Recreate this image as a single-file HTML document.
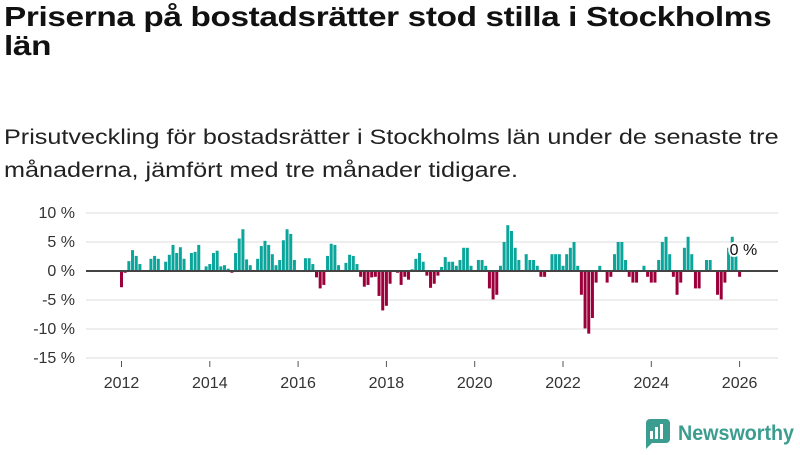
<!DOCTYPE html>
<html><head><meta charset="utf-8"><style>
body{margin:0;width:800px;height:450px;overflow:hidden;background:#fff;font-family:"Liberation Sans","DejaVu Sans",sans-serif;color:#111}
#title{position:absolute;left:4px;top:2px;font-size:28px;font-weight:bold;line-height:29px;margin:0;letter-spacing:-0.3px;transform:scaleX(1.19);transform-origin:left top;white-space:nowrap}
#sub{position:absolute;left:4px;top:121px;font-size:21px;line-height:33px;margin:0;color:#222;transform:scaleX(1.2);transform-origin:left top;white-space:nowrap}
svg{position:absolute;left:0;top:0}
</style></head><body>
<h1 id="title">Priserna på bostadsrätter stod stilla i Stockholms<br>län</h1>
<p id="sub">Prisutveckling för bostadsrätter i Stockholms län under de senaste tre<br>månaderna, jämfört med tre månader tidigare.</p>
<svg id="chart" width="800" height="450"></svg>
<script>
const startYear = 2012;
const values = [-2.8,-0.3,1.7,3.6,2.6,1.2,0,0,2.1,2.6,2.1,0,1.6,2.8,4.5,3.1,4.1,2.1,0,3.1,3.3,4.5,0,0.8,1.2,3.1,3.5,0.8,1.0,0.4,-0.3,3.1,5.6,7.2,2.0,1.0,0,2.1,4.3,5.2,4.5,2.9,1.0,1.9,5.3,7.2,6.4,1.9,0,0,2.2,2.2,1.2,-1.1,-3.0,-2.4,2.6,4.7,4.5,1.0,0,1.4,2.8,2.6,1.2,-1.0,-2.7,-2.4,-1.1,-1.0,-4.3,-6.8,-6.0,-2.2,0,-0.3,-2.4,-1.0,-1.5,0.3,2.1,3.1,1.6,-0.8,-2.9,-2.2,-0.8,0.7,2.4,1.6,1.6,0.9,1.9,4.0,4.0,0.9,0,1.9,1.9,0.9,-3.0,-4.9,-4.1,0.9,5.0,7.9,6.9,4.0,1.9,0,2.9,1.9,1.9,0.9,-1.0,-1.0,0,2.9,2.9,2.9,0.9,2.9,4.0,5.0,0.9,-4.1,-9.9,-10.8,-8.1,-2.0,0.9,0,-2.0,-1.0,2.9,5.0,5.0,1.9,-1.0,-2.0,-2.0,0,0.9,-1.0,-2.0,-2.0,1.9,5.0,5.9,2.9,-1.0,-4.1,-2.0,4.0,5.9,2.9,-3.0,-3.0,0,1.9,1.9,0,-4.1,-4.9,-2.0,4.0,5.9,2.9,-1.0];
const yTicks = [10,5,0,-5,-10,-15];
const xTicks = [2012,2014,2016,2018,2020,2022,2024,2026];
const lastLabel = "0 %";

const svg = document.getElementById('chart');
const NS = 'http://www.w3.org/2000/svg';
const x = t => 121.5 + (t - startYear) * 44.15;
const y = v => 271 - v * 5.8;
function mk(tag, attrs, txt){const e=document.createElementNS(NS,tag);for(const k in attrs)e.setAttribute(k,attrs[k]);if(txt!=null)e.textContent=txt;svg.appendChild(e);return e;}

yTicks.forEach(t=>{
  const g = mk('line',{x1:86,x2:778,y1:y(t),y2:y(t),stroke:'#e3e3e3','stroke-width':1.3});
  
  
  const l = mk('text',{x:75,y:y(t)+5,'text-anchor':'end','font-size':16,fill:'#333'}, t+' %');
  
  
});
xTicks.forEach(t=>{
  const tk = mk('line',{x1:x(t),x2:x(t),y1:361,y2:367,stroke:'#555','stroke-width':1});
  
  
  const l = mk('text',{x:x(t),y:388,'text-anchor':'middle','font-size':16,fill:'#333'}, String(t));
  
  
});
values.forEach((v,i)=>{
  if(v===0) return;
  const cx = x(startYear + i/12);
  const b = mk('rect',{x:cx-1.5,width:3,y:Math.min(y(v),y(0)),height:Math.abs(y(v)-y(0)),fill:v>0?'#0ca59b':'#9c003b'});
  
  
});
const zl = mk('line',{x1:86,x2:778,y1:y(0),y2:y(0),stroke:'#444','stroke-width':2});


const lx = x(startYear + (values.length-1)/12);
const lab = mk('text',{x:lx-10,y:255,'font-size':16,fill:'#111',stroke:'#fff','stroke-width':4,'paint-order':'stroke'}, lastLabel);


</script>
<svg width="160" height="40" style="left:640px;top:415px">
  <path d="M6 4 h20 a4 4 0 0 1 4 4 v16 a4 4 0 0 1 -4 4 h-14 l-6 6 v-26 a4 4 0 0 1 4 -4z" fill="#3a9d8f"/>
  <rect x="10" y="16" width="3" height="8" fill="#fff"/><rect x="15" y="12" width="3" height="12" fill="#fff"/><rect x="20" y="9" width="3" height="15" fill="#fff"/>
  <text x="38" y="25" font-size="21" font-weight="bold" fill="#3a9d8f" textLength="116" lengthAdjust="spacingAndGlyphs" font-family="Liberation Sans, sans-serif">Newsworthy</text>
</svg>
</body></html>
